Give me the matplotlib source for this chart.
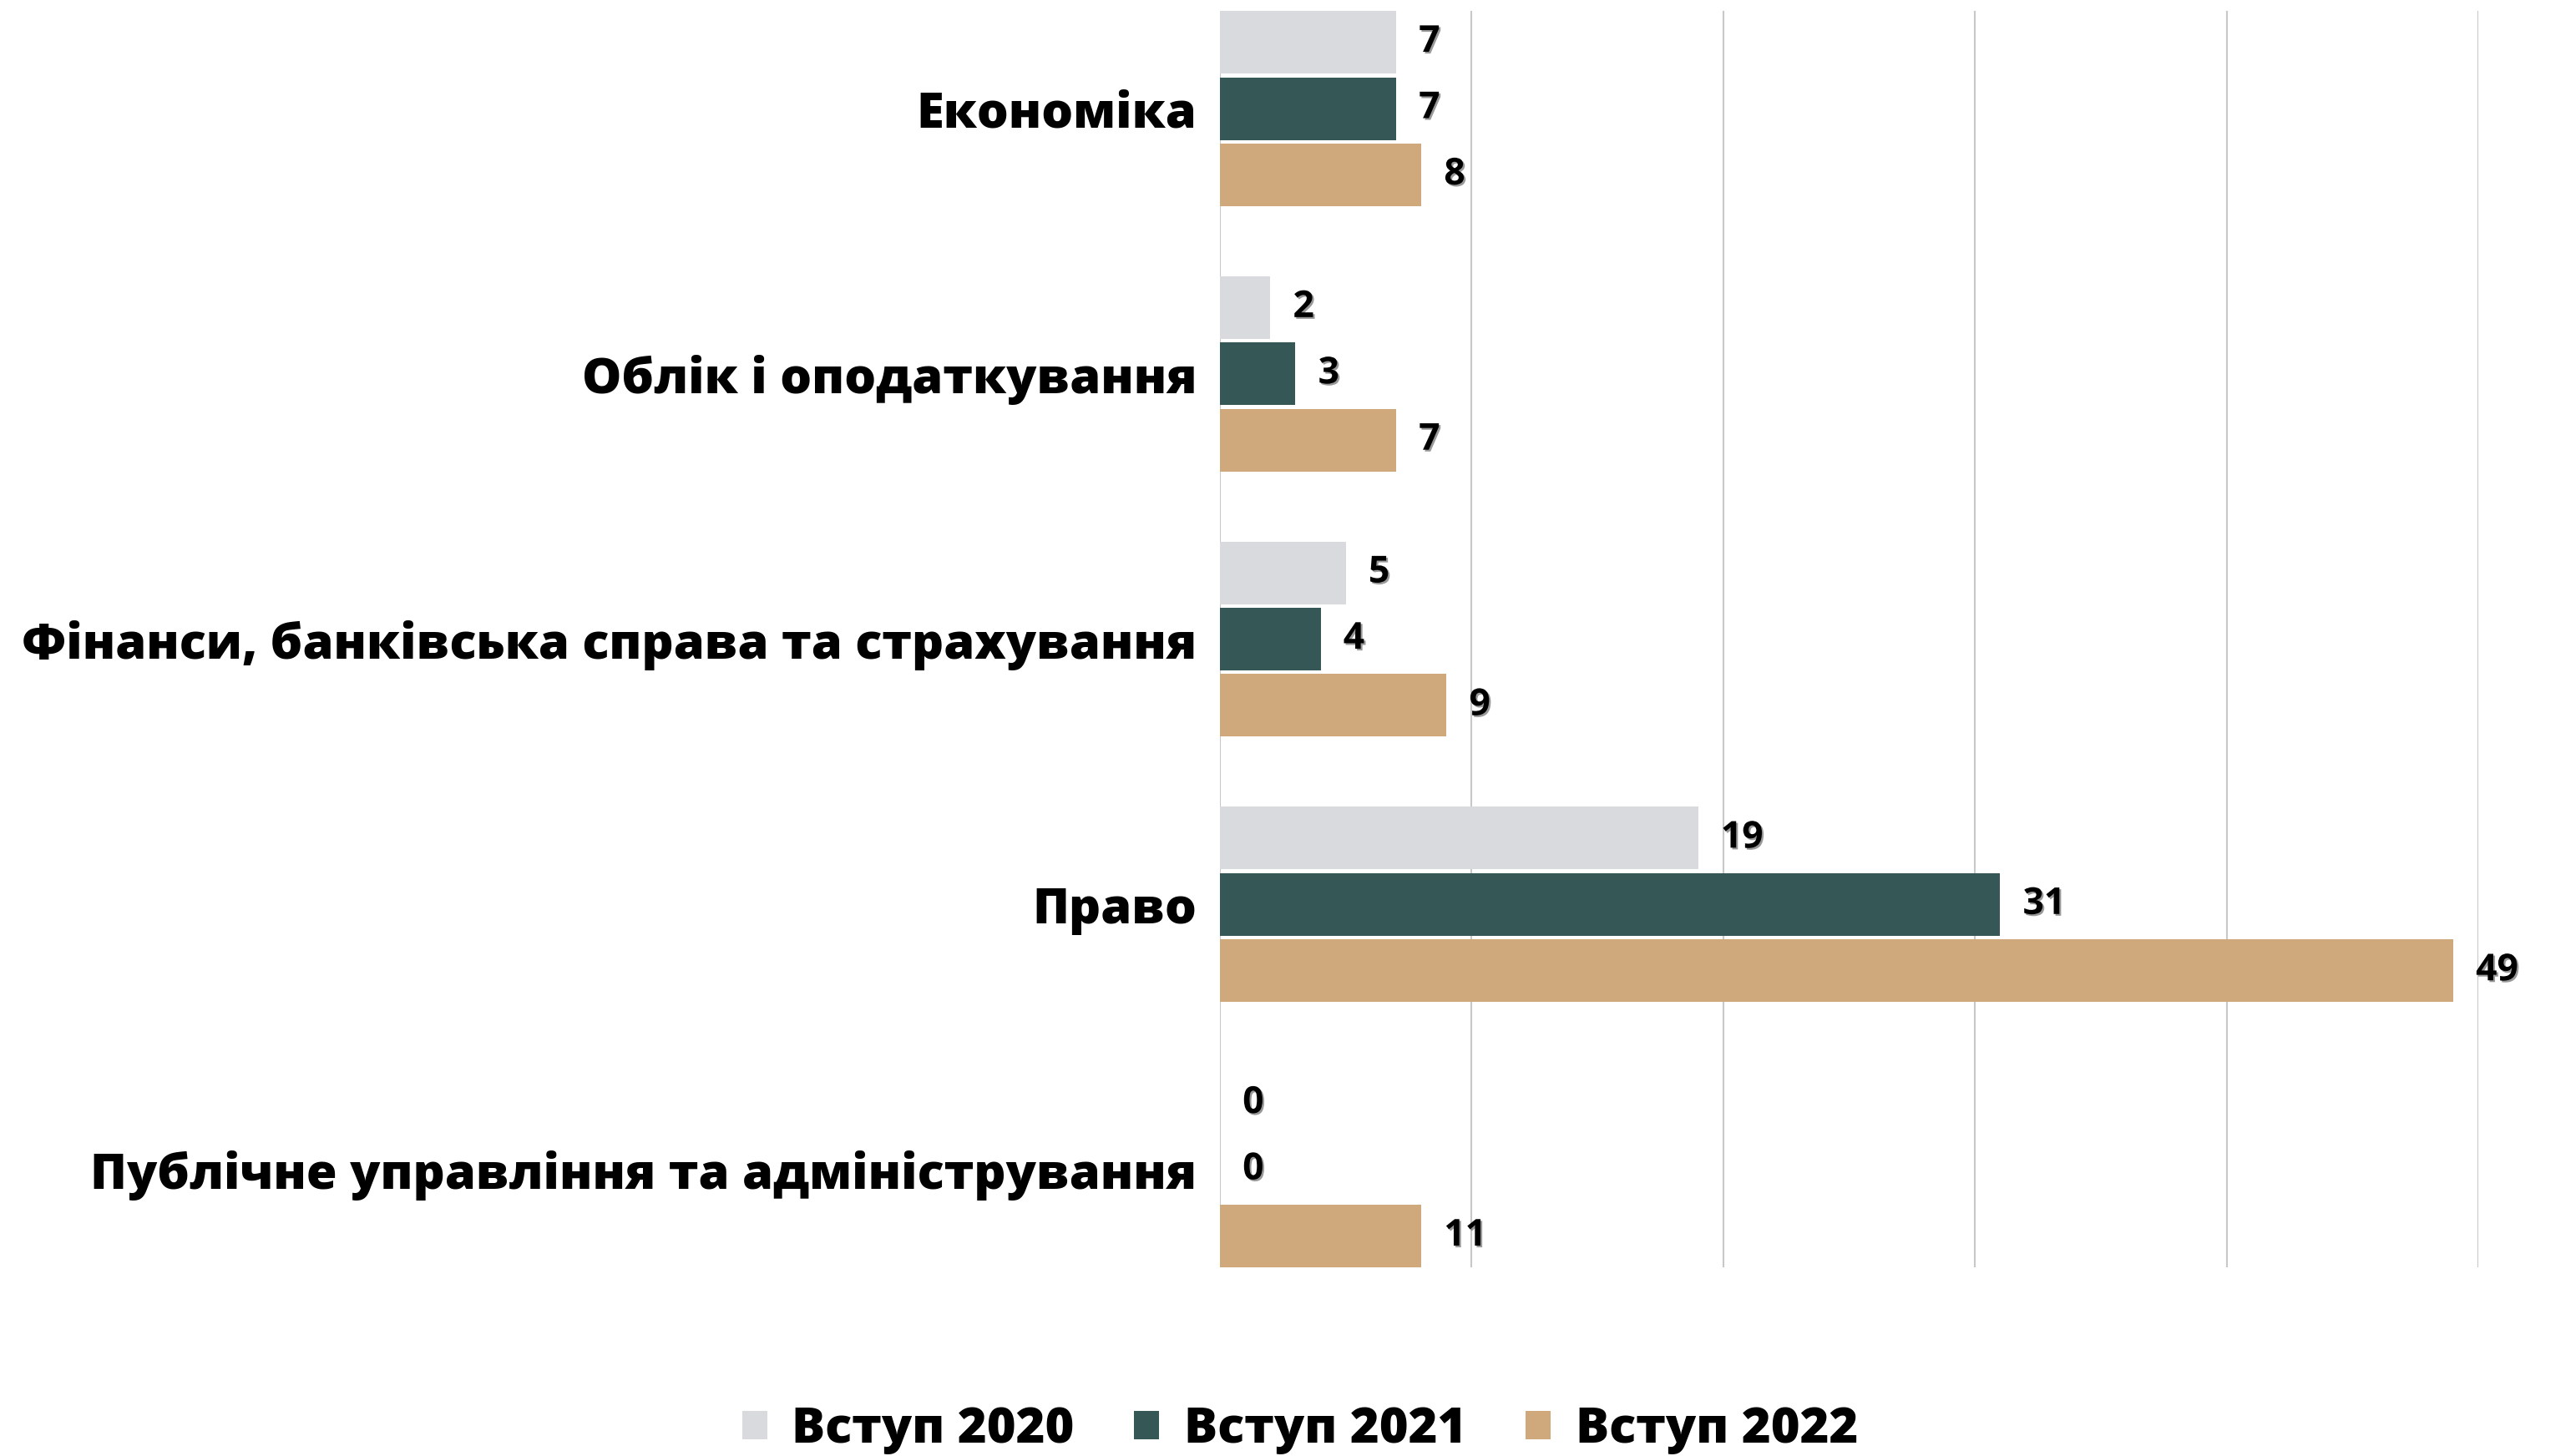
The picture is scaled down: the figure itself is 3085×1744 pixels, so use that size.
import matplotlib
matplotlib.use("Agg")
import matplotlib.pyplot as plt
import matplotlib.patheffects as pe
from matplotlib.patches import Patch
import numpy as np

plt.rcParams['font.family'] = ['Open Sans', 'DejaVu Sans']

categories = [
    "Економіка",
    "Облік і оподаткування",
    "Фінанси, банківська справа та страхування",
    "Право",
    "Публічне управління та адміністрування",
]
series_names = ["Вступ 2020", "Вступ 2021", "Вступ 2022"]
vals_2020 = [7, 2, 5, 19, 0]
vals_2021 = [7, 3, 4, 31, 0]
vals_2022 = [8, 7, 9, 49, 8]          # bar lengths as drawn
labels_2020 = ["7", "2", "5", "19", "0"]
labels_2021 = ["7", "3", "4", "31", "0"]
labels_2022 = ["8", "7", "9", "49", "11"]  # printed labels
colors = ["#D9DADE", "#355755", "#CFA87C"]

fig = plt.figure(figsize=(30.85, 17.44), dpi=100)
ax = fig.add_axes([0.4736, 0.1296, 0.4885, 0.8629])

y = np.arange(len(categories))
offsets = [-0.25, 0.0, 0.25]
all_vals = [vals_2020, vals_2021, vals_2022]
all_labels = [labels_2020, labels_2021, labels_2022]
shadow = [pe.withSimplePatchShadow(offset=(1.5, -1.5), shadow_rgbFace='#555555', alpha=0.6)]

for vals, labs, off, c in zip(all_vals, all_labels, offsets, colors):
    ax.barh(y + off, vals, height=0.236, color=c, zorder=3)
    for yi, v, t in zip(y, vals, labs):
        ax.text(v + 0.9, yi + off, t, ha='left', va='center', fontsize=32,
                fontweight='bold', color='black', path_effects=shadow, zorder=4)

ax.set_xlim(0, 50)
ax.set_ylim(len(categories) - 1 + 0.368, -0.368)
ax.set_xticks(np.arange(0, 51, 10))
ax.set_xticklabels([])
ax.tick_params(axis='x', length=0)
ax.set_yticks(y)
ax.set_yticklabels(categories, fontsize=42.8, fontweight=800)
ax.tick_params(axis='y', length=0, pad=20)
ax.grid(axis='x', color='#C8C8C8', linewidth=1.5, zorder=0)
for s in ax.spines.values():
    s.set_visible(False)

handles = [Patch(facecolor=c, edgecolor='none') for c in colors]
fig.legend(handles, series_names, loc='center', bbox_to_anchor=(0.5047, 0.018),
           ncol=3, frameon=False, prop={'size': 42.8, 'weight': 800},
           handlelength=0.5, handleheight=0.5, handletextpad=0.5, columnspacing=1.2)

fig.savefig("out.png", dpi=100)
